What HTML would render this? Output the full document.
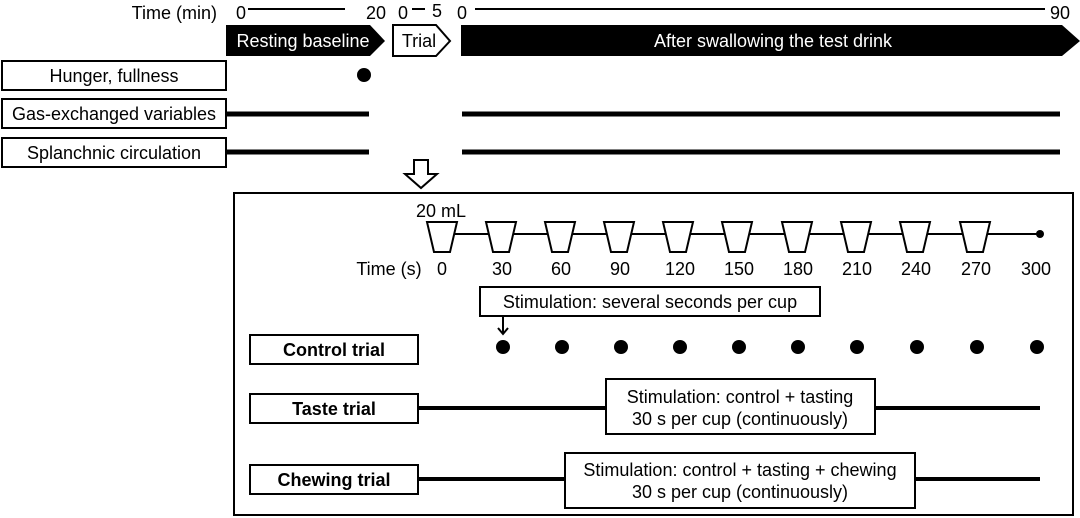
<!DOCTYPE html>
<html><head><meta charset="utf-8"><style>body{margin:0;background:#fff}svg{display:block}text{font-family:"Liberation Sans",Arial,sans-serif;fill:#000}</style></head><body>
<svg width="1080" height="518" viewBox="0 0 1080 518" xmlns="http://www.w3.org/2000/svg">
<g font-size="18">
<text x="217" y="19" text-anchor="end">Time (min)</text>
<text x="236" y="19">0</text>
<line x1="248" y1="9" x2="345" y2="9" stroke="#000" stroke-width="2"/>
<text x="366" y="19">20</text>
<text x="398" y="19">0</text>
<line x1="412" y1="9" x2="425" y2="9" stroke="#000" stroke-width="2"/>
<text x="432" y="17">5</text>
<text x="457" y="19">0</text>
<line x1="475" y1="9" x2="1045" y2="9" stroke="#000" stroke-width="2"/>
<text x="1050" y="19">90</text>
</g>
<polygon points="226,25 370,25 385,41 370,56 226,56" fill="#000"/>
<text x="303" y="47" font-size="18" text-anchor="middle" style="fill:#fff">Resting baseline</text>
<polygon points="393,25 436,25 450,41 436,56 393,56" fill="#fff" stroke="#000" stroke-width="2"/>
<text x="419" y="47" font-size="18" text-anchor="middle">Trial</text>
<polygon points="461,25 1062,25 1080,41 1062,56 461,56" fill="#000"/>
<text x="773" y="47" font-size="18" text-anchor="middle" style="fill:#fff">After swallowing the test drink</text>
<g fill="#fff" stroke="#000" stroke-width="2">
<rect x="2" y="61" width="224" height="29"/><rect x="2" y="99" width="224" height="29"/><rect x="2" y="138" width="224" height="29"/>
</g>
<g font-size="18" text-anchor="middle">
<text x="114" y="82">Hunger, fullness</text>
<text x="114" y="120">Gas-exchanged variables</text>
<text x="114" y="159">Splanchnic circulation</text>
</g>
<circle cx="364" cy="75" r="7"/>
<g stroke="#000" stroke-width="5">
<line x1="226" y1="114" x2="369" y2="114"/><line x1="462" y1="114" x2="1060" y2="114"/>
<line x1="226" y1="152" x2="369" y2="152"/><line x1="462" y1="152" x2="1060" y2="152"/>
</g>
<polygon points="414,160 428,160 428,174 437,174 421,188 405,174 414,174" fill="#fff" stroke="#000" stroke-width="2"/>
<rect x="234" y="193" width="839" height="322" fill="none" stroke="#000" stroke-width="2"/>
<text x="441" y="217" font-size="18" text-anchor="middle">20 mL</text>
<line x1="443" y1="234" x2="1040" y2="234" stroke="#000" stroke-width="2"/>
<circle cx="1040" cy="234" r="4"/>
<g fill="#fff" stroke="#000" stroke-width="2">
<polygon points="427,222 457,222 450,252 434,252"/>
<polygon points="486,222 516,222 509,252 493,252"/>
<polygon points="545,222 575,222 568,252 552,252"/>
<polygon points="604,222 634,222 627,252 611,252"/>
<polygon points="663,222 693,222 686,252 670,252"/>
<polygon points="722,222 752,222 745,252 729,252"/>
<polygon points="782,222 812,222 805,252 789,252"/>
<polygon points="841,222 871,222 864,252 848,252"/>
<polygon points="900,222 930,222 923,252 907,252"/>
<polygon points="960,222 990,222 983,252 967,252"/>
</g>
<g font-size="18" text-anchor="middle">
<text x="389" y="275">Time (s)</text>
<text x="442" y="275">0</text><text x="502" y="275">30</text><text x="561" y="275">60</text><text x="620" y="275">90</text><text x="680" y="275">120</text><text x="739" y="275">150</text><text x="798" y="275">180</text><text x="857" y="275">210</text><text x="916" y="275">240</text><text x="976" y="275">270</text><text x="1036" y="275">300</text>
</g>
<rect x="480" y="287" width="340" height="29" fill="#fff" stroke="#000" stroke-width="2"/>
<text x="650" y="308" font-size="18" text-anchor="middle">Stimulation: several seconds per cup</text>
<line x1="503" y1="316" x2="503" y2="334" stroke="#000" stroke-width="2"/>
<polyline points="498,328 503,334 508,328" fill="none" stroke="#000" stroke-width="2"/>
<g fill="#fff" stroke="#000" stroke-width="2">
<rect x="250" y="335" width="168" height="29"/><rect x="250" y="394" width="168" height="29"/><rect x="250" y="465" width="168" height="29"/>
</g>
<g font-size="18" font-weight="bold" text-anchor="middle">
<text x="334" y="356">Control trial</text><text x="334" y="415">Taste trial</text><text x="334" y="486">Chewing trial</text>
</g>
<g>
<circle cx="503" cy="347" r="7"/><circle cx="562" cy="347" r="7"/><circle cx="621" cy="347" r="7"/><circle cx="680" cy="347" r="7"/><circle cx="739" cy="347" r="7"/><circle cx="798" cy="347" r="7"/><circle cx="857" cy="347" r="7"/><circle cx="917" cy="347" r="7"/><circle cx="977" cy="347" r="7"/><circle cx="1037" cy="347" r="7"/>
</g>
<g stroke="#000" stroke-width="4">
<line x1="418" y1="408" x2="1040" y2="408"/><line x1="418" y1="479" x2="1040" y2="479"/>
</g>
<rect x="606" y="379" width="269" height="55" fill="#fff" stroke="#000" stroke-width="2"/>
<text x="740" y="403" font-size="18" text-anchor="middle">Stimulation: control + tasting</text>
<text x="740" y="425" font-size="18" text-anchor="middle">30 s per cup (continuously)</text>
<rect x="565" y="453" width="350" height="55" fill="#fff" stroke="#000" stroke-width="2"/>
<text x="740" y="476" font-size="18" text-anchor="middle">Stimulation: control + tasting + chewing</text>
<text x="740" y="498" font-size="18" text-anchor="middle">30 s per cup (continuously)</text>
</svg>
</body></html>
